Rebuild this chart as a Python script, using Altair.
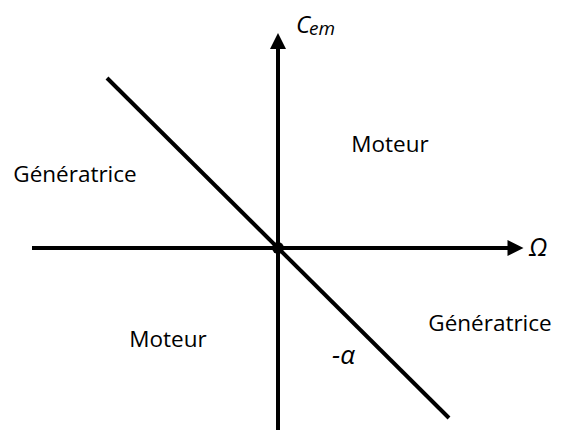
import altair as alt
import pandas as pd

# Characteristic C_em = -alpha * Omega (coordinates in diagram units, origin at the axes' crossing)
char_x = [-171, 171]
char_y = [170, -170]

# Axes (Omega horizontal, C_em vertical)
axis_x1 = [-246, 0]
axis_y1 = [0, -190]
axis_x2 = [230, 0]
axis_y2 = [0, 199]

# Arrow heads
arrow_x = [237.5, 0]
arrow_y = [0, 207]
arrow_shape = ["M1,0L-1,-1L-1,1Z", "M0,-1L1,1L-1,1Z"]

# Quadrant labels
quad_text = ["Génératrice", "Moteur", "Moteur", "Génératrice"]
quad_x = [-203, 112, -110, 212]
quad_y = [66, 96, -99, -83]

XD = [-270, 279]
YD = [-182, 240]

xs = alt.Scale(domain=XD, nice=False, zero=False)
ys = alt.Scale(domain=YD, nice=False, zero=False)

seg_df = pd.DataFrame({"x": axis_x1 + [char_x[0]], "y": axis_y1 + [char_y[0]],
                       "x2": axis_x2 + [char_x[1]], "y2": axis_y2 + [char_y[1]]})
segs = alt.Chart(seg_df).mark_rule(color="black", strokeWidth=4).encode(
    x=alt.X("x:Q", scale=xs, axis=None),
    y=alt.Y("y:Q", scale=ys, axis=None),
    x2="x2:Q", y2="y2:Q")

arrow_df = pd.DataFrame({"x": arrow_x, "y": arrow_y, "shape": arrow_shape})
arrows = alt.Chart(arrow_df).mark_point(filled=True, opacity=1, size=256, color="black",
                                         strokeWidth=0).encode(
    x=alt.X("x:Q", scale=xs, axis=None),
    y=alt.Y("y:Q", scale=ys, axis=None),
    shape=alt.Shape("shape:N", scale=None, legend=None))

dot = alt.Chart(pd.DataFrame({"x": [0], "y": [0]})).mark_circle(
    size=140, color="black", opacity=1).encode(
    x=alt.X("x:Q", scale=xs, axis=None), y=alt.Y("y:Q", scale=ys, axis=None))

quad_df = pd.DataFrame({"x": quad_x, "y": quad_y, "t": quad_text})
quads = alt.Chart(quad_df).mark_text(font="Open Sans", fontSize=22.5, color="black",
                                      align="center", baseline="alphabetic").encode(
    x=alt.X("x:Q", scale=xs, axis=None), y=alt.Y("y:Q", scale=ys, axis=None), text="t:N")

def label(txt, x, y, size, align="left"):
    return alt.Chart(pd.DataFrame({"x": [x], "y": [y], "t": [txt]})).mark_text(
        font="Open Sans", fontStyle="italic", fontSize=size, color="black",
        align=align, baseline="alphabetic").encode(
        x=alt.X("x:Q", scale=xs, axis=None), y=alt.Y("y:Q", scale=ys, axis=None), text="t:N")

c_lbl = label("C", 18, 215, 24)
em_lbl = label("em", 31, 213, 19)
om_lbl = label("Ω", 251, -8, 25)
al_lbl = label("-α", 54, -116, 26)

chart = alt.layer(segs, arrows, dot, quads, c_lbl, em_lbl, om_lbl, al_lbl).properties(
    width=549, height=422, padding=0, autosize=alt.AutoSizeParams(type="none"),
    background="white").configure_view(stroke=None)

chart.save("out.html", embed_options={"renderer": "svg", "actions": False})
